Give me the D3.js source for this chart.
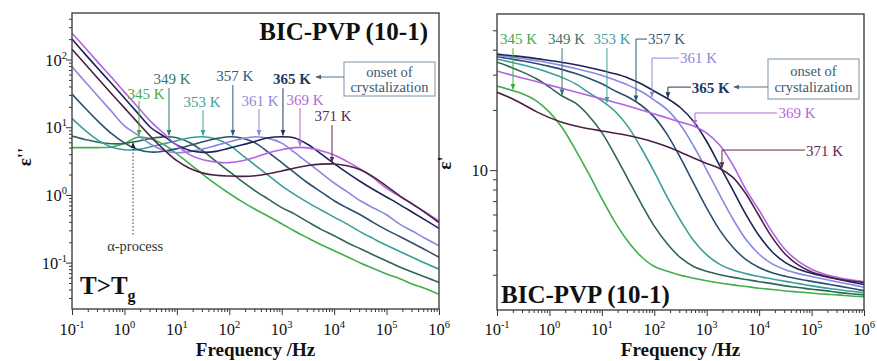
<!DOCTYPE html>
<html><head><meta charset="utf-8">
<script src="https://cdn.jsdelivr.net/npm/d3@7"></script>
<style>
body{margin:0;background:#fff}
svg{display:block}
text{font-family:"Liberation Serif","Times New Roman",serif}
</style>
</head><body>
<svg id="c" width="877" height="361"></svg>
<script>
// ---------- DATA ----------
const freq = [0.1,0.178,0.316,0.562,1,1.78,3.16,5.62,10,17.8,31.6,56.2,100,178,316,562,1000,1780,3160,5620,1e4,1.78e4,3.16e4,5.62e4,1e5,1.78e5,3.16e5,5.62e5,1e6];
const temperatures = ["345 K","349 K","353 K","357 K","361 K","365 K","369 K","371 K"];
const seriesColors = ["#3fae4b","#2d6655","#3a9f98","#2b4f6e","#8a88e2","#1c2456","#b262e2","#4b2046"];
const labelColors  = ["#47a84a","#3a7565","#3f9f9c","#2f5876","#8e8ad8","#1f3a5e","#b46ad8","#5a2c50"];

// dielectric loss eps'' (left panel)
const loss345 = [5.0,5.0,5.0,5.1,5.75,7.1,6.75,5.56,4.03,2.85,2.0,1.43,1.05,0.79,0.61,0.48,0.376,0.29,0.23,0.184,0.15,0.122,0.099,0.082,0.068,0.058,0.048,0.041,0.034];
const loss349 = [7.4,6.6,6.0,5.7,5.75,6.2,6.8,7.2,7.0,5.9,4.42,3.13,2.21,1.57,1.14,0.86,0.65,0.52,0.40,0.31,0.25,0.197,0.16,0.13,0.106,0.086,0.072,0.061,0.051];
const loss353 = [13.5,8.96,6.4,5.12,4.65,4.67,5.13,5.68,6.32,6.98,7.24,6.68,5.43,3.85,2.72,1.93,1.36,1.01,0.77,0.60,0.47,0.37,0.285,0.226,0.18,0.146,0.119,0.097,0.080];
const loss357 = [31,19.2,12.2,8.1,5.86,4.7,4.3,4.42,4.82,5.4,6.1,6.8,7.23,6.88,5.82,4.22,2.99,2.11,1.50,1.11,0.82,0.64,0.51,0.39,0.305,0.243,0.193,0.153,0.12];
const loss361 = [78,47,28.5,17.3,10.5,7.7,5.6,4.54,4.2,4.36,4.79,5.39,6.08,6.8,7.23,6.84,5.82,4.22,2.99,2.11,1.50,1.11,0.82,0.64,0.51,0.37,0.29,0.225,0.178];
const loss365 = [200,120,73,44.5,27,16.3,9.9,7.4,5.47,4.52,4.25,4.4,4.91,5.49,6.21,6.98,7.23,6.92,5.56,4.03,2.9,2.12,1.58,1.2,0.93,0.72,0.55,0.42,0.32];
const loss369 = [245,149,90,55,33,20,12.2,8.1,5.38,3.9,3.3,3.05,3.0,3.2,3.6,4.2,4.65,5.0,4.95,4.5,3.9,3.1,2.4,1.78,1.25,0.95,0.72,0.55,0.41];
const loss371 = [141,86,52,31.5,19.3,11.8,7.3,4.7,3.2,2.45,2.1,1.95,1.9,1.88,1.92,2.05,2.25,2.5,2.72,2.85,2.86,2.7,2.35,1.85,1.35,0.97,0.73,0.54,0.39];

// dielectric permittivity eps' (right panel)
const perm345 = [26.3,25.2,24.0,22.2,19.5,16.2,12.6,9.6,7.2,5.5,4.4,3.7,3.3,3.12,2.98,2.88,2.8,2.73,2.67,2.62,2.57,2.53,2.49,2.46,2.43,2.4,2.38,2.35,2.33];
const perm349 = [34.6,32.8,30.8,28.6,26.0,23.4,21.6,18.7,15.4,11.9,9.0,6.8,5.25,4.27,3.65,3.3,3.12,3.0,2.91,2.84,2.77,2.71,2.64,2.59,2.54,2.5,2.45,2.41,2.38];
const perm353 = [35.8,34.7,33.5,32.2,30.7,29.0,27.0,24.4,22.2,19.7,16.5,12.9,9.8,7.3,5.6,4.45,3.77,3.38,3.17,3.04,2.94,2.86,2.78,2.71,2.64,2.58,2.53,2.48,2.44];
const perm357 = [36.9,36.0,35.1,34.1,33.0,31.8,30.4,28.8,27.0,24.9,23.2,21.1,18.4,15.0,11.5,8.6,6.46,5.0,4.12,3.57,3.26,3.07,2.95,2.86,2.78,2.71,2.64,2.57,2.5];
const perm361 = [37.5,36.8,36.0,35.2,34.3,33.3,32.2,31.0,29.7,28.2,26.6,24.7,22.4,20.0,16.8,13.2,10.0,7.5,5.7,4.5,3.8,3.4,3.18,3.04,2.94,2.85,2.76,2.68,2.6];
const perm365 = [38.0,37.4,36.8,36.1,35.3,34.5,33.6,32.6,31.5,30.3,28.9,27.0,24.8,22.8,20.5,17.5,13.9,10.5,7.95,6.0,4.7,3.9,3.45,3.2,3.05,2.94,2.85,2.76,2.68];
const perm369 = [31.3,30.0,28.8,27.7,26.6,25.6,24.6,23.6,22.7,21.8,20.9,20.0,19.1,18.2,17.4,16.6,15.3,13.3,10.6,8.0,6.3,4.9,4.0,3.5,3.2,3.02,2.91,2.83,2.77];
const perm371 = [24.5,23.0,21.3,19.6,18.3,17.3,16.6,16.1,15.7,15.3,14.9,14.4,13.8,13.1,12.3,11.5,10.8,10.2,9.2,7.6,5.9,4.6,3.8,3.35,3.1,2.96,2.86,2.79,2.74];

const lossSeries = [loss345,loss349,loss353,loss357,loss361,loss365,loss369,loss371];
const permSeries = [perm345,perm349,perm353,perm357,perm361,perm365,perm369,perm371];

// axis ticks
const xDecades = [0.1,1,10,100,1e3,1e4,1e5,1e6];
const xExponents = ["-1","0","1","2","3","4","5","6"];
const lossDecades = [0.1,1,10,100];
const lossExponents = ["-1","0","1","2"];
const permMajor = [10];
const permMajorLabels = ["10"];
const permMinor = [3,4,5,6,7,8,9,20,30,40,50];

// annotations (frequency in Hz, value in eps units)
const lossLabels = [ // text, labelFreq, labelVal, arrowFreq, arrowTop, arrowTip, bold
  ["345 K",2.58,26,1.9,24.4,7.6,false],
  ["349 K",8.07,43.5,7.08,37.9,7.6,false],
  ["353 K",30.2,19.9,31.6,17.9,7.6,false],
  ["357 K",128,48,117,42,7.6,false],
  ["361 K",385,20.6,369,18.6,7.6,false],
  ["365 K",1570,43.5,1057,37.9,7.6,true],
  ["369 K",2780,21.3,2234,19.2,5.3,false],
  ["371 K",9510,12.4,9100,10.8,3.05,false]
];
const permLabels = [ // text, labelFreq, labelVal, elbowFreq, elbowVal, arrowFreq, arrowTip, anchor, bold
  ["345 K",0.257,42.7,null,40.7,0.202,25.3,"middle",false],
  ["349 K",2.12,42.7,null,40.7,1.74,23.8,"middle",false],
  ["353 K",15.6,42.7,null,40.7,12.5,21.8,"middle",false],
  ["357 K",76,42.7,72.6,45.2,44.8,22.2,"start",false],
  ["361 K",310,34.3,296,36.3,90.4,23.2,"start",false],
  ["365 K",520,24.3,501,26.0,182,23.0,"start",true],
  ["369 K",23500,18.2,21900,19.3,597,16.8,"start",false],
  ["371 K",78000,11.7,74800,12.6,1955,10.3,"start",false]
];

// ---------- DRAW ----------
const svg = d3.select("#c");
const defs = svg.append("defs");
function marker(id, color, w){
  defs.append("marker").attr("id",id).attr("viewBox","0 0 10 10").attr("refX",9).attr("refY",5)
    .attr("markerWidth",w).attr("markerHeight",w).attr("orient","auto-start-reverse")
    .attr("markerUnits","userSpaceOnUse")
    .append("path").attr("d","M0,1 L10,5 L0,9 Z").attr("fill",color);
}
seriesColors.forEach((c,i)=>marker("m"+i, labelColors[i], 6));
marker("mk","#222",6);
marker("mb","#4a6275",6);

const xL = d3.scaleLog().domain([0.1,1e6]).range([72,439]);
const yL = d3.scaleLog().domain([Math.pow(10,-1.685),Math.pow(10,2.687)]).range([309,13]);
const xR = d3.scaleLog().domain([0.1,1e6]).range([497,864]);
const yR = d3.scaleLog().domain([2.0,60.3]).range([310,14]);

function minorTicks(lo, hi){
  const out=[];
  for(let d=1e-3; d<1e7; d*=10){
    for(let m=2;m<=9;m++){ const v=+(d*m).toPrecision(3); if(v>lo && v<hi) out.push(v);}
  }
  return out;
}

function supLabel(sel, base, exp, size, supSize){
  sel.text(null);
  sel.append("tspan").text(base);
  sel.append("tspan").attr("dy",-7).attr("font-size",supSize).text(exp);
}

function panel(x, y, clipId){
  const [x0,x1]=x.range(), [y0,y1]=y.range();
  defs.append("clipPath").attr("id",clipId).append("rect")
    .attr("x",x0).attr("y",y1).attr("width",x1-x0).attr("height",y0-y1);
  const gx = svg.append("g").attr("transform",`translate(0,${y0})`);
  gx.call(d3.axisBottom(x).tickValues(minorTicks(0.1,1e6)).tickSize(3).tickFormat(""));
  const gxm = svg.append("g").attr("transform",`translate(0,${y0})`);
  gxm.call(d3.axisBottom(x).tickValues(xDecades).tickSize(6).tickFormat(""));
  [gx,gxm].forEach(g=>{g.select(".domain").remove(); g.selectAll("line").attr("stroke","#333").attr("stroke-width",1);});
  xDecades.forEach((v,i)=>{
    const t = svg.append("text").attr("x",x(v)).attr("y",335).attr("text-anchor","middle")
      .attr("font-size",16.5).attr("fill","#111");
    supLabel(t,"10",xExponents[i],16.5,10.5);
  });
  svg.append("text").attr("x",(x0+x1)/2).attr("y",356).attr("text-anchor","middle")
    .attr("font-size",19).attr("font-weight","bold").attr("fill","#111").text("Frequency /Hz");
  return clipId;
}

// ---- LEFT PANEL ----
panel(xL,yL,"clipL");
{
  const [lo,hi]=yL.domain();
  const g1=svg.append("g").attr("transform","translate(72,0)").call(d3.axisLeft(yL).tickValues(minorTicks(lo,hi)).tickSize(3).tickFormat(""));
  const g2=svg.append("g").attr("transform","translate(72,0)").call(d3.axisLeft(yL).tickValues(lossDecades).tickSize(6).tickFormat(""));
  [g1,g2].forEach(g=>{g.select(".domain").remove(); g.selectAll("line").attr("stroke","#333");});
  lossDecades.forEach((v,i)=>{
    const t=svg.append("text").attr("x",67).attr("y",yL(v)+6).attr("text-anchor","end").attr("font-size",16.5).attr("fill","#111");
    supLabel(t,"10",lossExponents[i],16.5,10.5);
  });
  svg.append("text").attr("transform",`translate(31,${157}) rotate(-90)`).attr("text-anchor","middle")
    .attr("font-size",19).attr("font-weight","bold").attr("fill","#111").text("ε''");
}
const lineL = d3.line().x((d,i)=>xL(freq[i])).y(d=>yL(d)).curve(d3.curveCatmullRom.alpha(0.5));
const gL = svg.append("g").attr("clip-path","url(#clipL)");
lossSeries.forEach((s,i)=>{
  gL.append("path").attr("d",lineL(s)).attr("fill","none").attr("stroke",seriesColors[i]).attr("stroke-width",1.6);
});
svg.append("rect").attr("x",72).attr("y",13).attr("width",367).attr("height",296).attr("fill","none").attr("stroke","#444").attr("stroke-width",1.4);

// left annotations
svg.append("text").attr("x",428).attr("y",40).attr("text-anchor","end").attr("font-size",25).attr("font-weight","bold").attr("fill","#111").text("BIC-PVP (10-1)");
lossLabels.forEach((a,i)=>{
  svg.append("text").attr("x",xL(a[1])).attr("y",yL(a[2])).attr("text-anchor","middle")
    .attr("font-size",15).attr("font-weight",a[6]?"bold":"normal").attr("fill",labelColors[i]).text(a[0]);
  svg.append("line").attr("x1",xL(a[3])).attr("x2",xL(a[3])).attr("y1",yL(a[4])).attr("y2",yL(a[5]))
    .attr("stroke",labelColors[i]).attr("stroke-width",1).attr("marker-end",`url(#m${i})`);
});
svg.append("rect").attr("x",344).attr("y",62).attr("width",91).attr("height",34).attr("fill","#fff").attr("stroke","#8fa4b4").attr("stroke-width",1.2);
svg.append("text").attr("x",389.5).attr("y",77).attr("text-anchor","middle").attr("font-size",14.5).attr("fill","#3d5a72").text("onset of");
svg.append("text").attr("x",389.5).attr("y",92).attr("text-anchor","middle").attr("font-size",14.5).attr("fill","#3d5a72").text("crystalization");
svg.append("line").attr("x1",344).attr("x2",316).attr("y1",77).attr("y2",77).attr("stroke","#5a7286").attr("stroke-width",1).attr("marker-end","url(#mb)");
// alpha process
svg.append("line").attr("x1",xL(1.46)).attr("x2",xL(1.46)).attr("y1",yL(0.26)).attr("y2",yL(5.9))
  .attr("stroke","#333").attr("stroke-width",1).attr("stroke-dasharray","1.5,2").attr("marker-end","url(#mk)");
svg.append("text").attr("x",xL(1.6)).attr("y",yL(0.17)+4).attr("text-anchor","middle").attr("font-size",14.5).attr("fill","#333").text("α-process");
{
  const t=svg.append("text").attr("x",80).attr("y",294).attr("font-size",25).attr("font-weight","bold").attr("fill","#111");
  t.append("tspan").text("T>T");
  t.append("tspan").attr("dy",7).attr("font-size",16).text("g");
}

// ---- RIGHT PANEL ----
panel(xR,yR,"clipR");
{
  const g1=svg.append("g").attr("transform","translate(497,0)").call(d3.axisLeft(yR).tickValues(permMinor).tickSize(4).tickFormat(""));
  const g2=svg.append("g").attr("transform","translate(497,0)").call(d3.axisLeft(yR).tickValues(permMajor).tickSize(7).tickFormat(""));
  [g1,g2].forEach(g=>{g.select(".domain").remove(); g.selectAll("line").attr("stroke","#333");});
  permMajor.forEach((v,i)=>{
    svg.append("text").attr("x",488).attr("y",yR(v)+6).attr("text-anchor","end").attr("font-size",16.5).attr("fill","#111").text(permMajorLabels[i]);
  });
  svg.append("text").attr("transform",`translate(451,${163}) rotate(-90)`).attr("text-anchor","middle")
    .attr("font-size",19).attr("font-weight","bold").attr("fill","#111").text("ε'");
}
const lineR = d3.line().x((d,i)=>xR(freq[i])).y(d=>yR(d)).curve(d3.curveCatmullRom.alpha(0.5));
const gR = svg.append("g").attr("clip-path","url(#clipR)");
permSeries.forEach((s,i)=>{
  gR.append("path").attr("d",lineR(s)).attr("fill","none").attr("stroke",seriesColors[i]).attr("stroke-width",1.6);
});
svg.append("rect").attr("x",497).attr("y",14).attr("width",367).attr("height",296).attr("fill","none").attr("stroke","#444").attr("stroke-width",1.4);

svg.append("text").attr("x",501).attr("y",303).attr("font-size",25).attr("font-weight","bold").attr("fill","#111").text("BIC-PVP (10-1)");
permLabels.forEach((a,i)=>{
  svg.append("text").attr("x",xR(a[1])).attr("y",yR(a[2])).attr("text-anchor",a[7])
    .attr("font-size",15).attr("font-weight",a[8]?"bold":"normal").attr("fill",labelColors[i]).text(a[0]);
  let pts;
  if(a[3]===null){
    pts=[[xR(a[5]),yR(a[4])],[xR(a[5]),yR(a[6])]];
  } else {
    pts=[[xR(a[3]),yR(a[4])],[xR(a[5]),yR(a[4])],[xR(a[5]),yR(a[6])]];
  }
  svg.append("path").attr("d",d3.line()(pts)).attr("fill","none").attr("stroke",labelColors[i]).attr("stroke-width",1)
    .attr("marker-end",`url(#m${i})`);
});
svg.append("rect").attr("x",768).attr("y",59).attr("width",91).attr("height",40).attr("fill","#fff").attr("stroke","#8fa4b4").attr("stroke-width",1.2);
svg.append("text").attr("x",813.5).attr("y",76).attr("text-anchor","middle").attr("font-size",14.5).attr("fill","#3d5a72").text("onset of");
svg.append("text").attr("x",813.5).attr("y",92).attr("text-anchor","middle").attr("font-size",14.5).attr("fill","#3d5a72").text("crystalization");
svg.append("line").attr("x1",768).attr("x2",734).attr("y1",87).attr("y2",87).attr("stroke","#5a7286").attr("stroke-width",1).attr("marker-end","url(#mb)");
</script>
</body></html>
